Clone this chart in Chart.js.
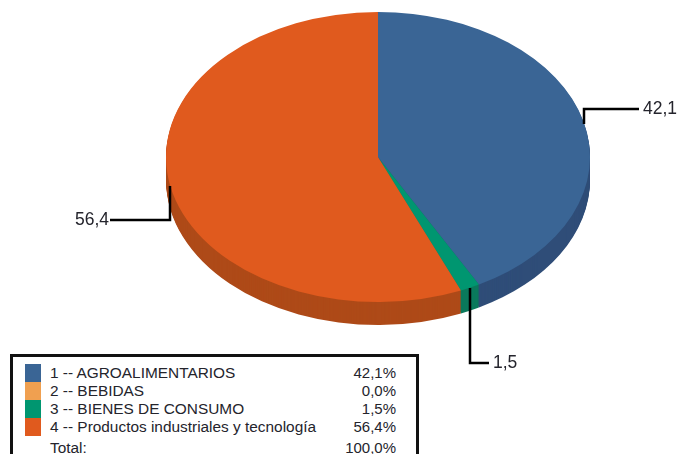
<!DOCTYPE html>
<html>
<head>
<meta charset="utf-8">
<title>Pie</title>
<script src="https://cdn.jsdelivr.net/npm/chart.js@4"></script>
<style>
html, body { margin: 0; padding: 0; background: #fff; overflow: hidden; }
#wrap { position: relative; width: 680px; height: 454px; overflow: hidden; }
#pieChart { position: absolute; left: 0; top: 0; }
#legendBox {
    position: absolute; left: 10px; top: 354px; width: 403px; height: 120px;
    border: 3px solid #111; background: #fff;
    font-family: "Liberation Sans", Arial, sans-serif; font-size: 15.4px; color: #24242c;
}
.row { position: absolute; left: 0; width: 100%; height: 18px; line-height: 18px; white-space: nowrap; }
.row .swatch { position: absolute; left: 12px; top: 0; width: 16px; height: 100%; }
.row .name { position: absolute; left: 37px; }
.row .pct { position: absolute; right: 20px; font-size: 15px; }
</style>
</head>
<body>
<div id="wrap">
    <canvas id="pieChart" width="680" height="454"></canvas>
    <div id="legendBox"></div>
</div>
<script>
// Chart data
const categories = ['1 -- AGROALIMENTARIOS', '2 -- BEBIDAS', '3 -- BIENES DE CONSUMO', '4 -- Productos industriales y tecnología'];
const shares = [42.1, 0.0, 1.5, 56.4];
const totalLabel = 'Total:';
const totalShare = 100.0;

const topColors = ['#3a6595', '#f0a050', '#009670', '#e05a1e'];
const sideColors = ['#2f4d78', '#b87a3c', '#0b7a5c', '#ae4a18'];

// Where the flattened pie ends up on the page
const pieCenterX = 378;
const pieCenterY = 157;
const pieRadiusX = 212;
const pieRadiusY = 145;
const pieDepth = 23;

// Leader lines, by data index: start offset from the rim, elbow offset, then run to the label
const leaders = {
    0: { start: 3, drop: -12, run: 55, align: 'left' },
    2: { start: 0, drop: 75, run: 19, align: 'left' },
    3: { start: 0, drop: 34, run: -60, align: 'right' }
};

function fmt(v, digits) {
    return v.toFixed(digits).replace('.', ',');
}

function squash(ctx, arc) {
    ctx.translate(pieCenterX, pieCenterY);
    ctx.scale(1, pieRadiusY / arc.outerRadius);
    ctx.translate(-arc.x, -arc.y);
}

const tiltedPie = {
    id: 'tiltedPie',
    beforeDatasetDraw(chart) {
        const ctx = chart.ctx;
        const arcs = chart.getDatasetMeta(0).data;
        // side wall, stacked slices going up
        for (let k = pieDepth; k >= 1; k--) {
            arcs.forEach((arc, i) => {
                if (arc.endAngle - arc.startAngle <= 0) return;
                ctx.save();
                ctx.translate(0, k);
                squash(ctx, arc);
                ctx.fillStyle = sideColors[i];
                ctx.beginPath();
                ctx.moveTo(arc.x, arc.y);
                ctx.arc(arc.x, arc.y, arc.outerRadius, arc.startAngle, arc.endAngle);
                ctx.closePath();
                ctx.fill();
                ctx.restore();
            });
        }
        ctx.save();
        squash(ctx, arcs[0]);
    },
    afterDatasetDraw(chart) {
        chart.ctx.restore();
    },
    afterDraw(chart) {
        const ctx = chart.ctx;
        const arcs = chart.getDatasetMeta(0).data;
        ctx.save();
        ctx.strokeStyle = '#000';
        ctx.lineWidth = 2.5;
        ctx.fillStyle = '#24242c';
        ctx.font = '17.5px "Liberation Sans", Arial, sans-serif';
        ctx.textBaseline = 'middle';
        Object.keys(leaders).forEach(key => {
            const i = Number(key);
            const arc = arcs[i];
            const mid = (arc.startAngle + arc.endAngle) / 2;
            const x = Math.round(pieCenterX + pieRadiusX * Math.cos(mid));
            const y = Math.round(pieCenterY + pieRadiusY * Math.sin(mid));
            const l = leaders[i];
            ctx.beginPath();
            ctx.moveTo(x, y + l.start);
            ctx.lineTo(x, y + l.drop);
            ctx.lineTo(x + l.run, y + l.drop);
            ctx.stroke();
            ctx.textAlign = l.align;
            const gap = l.align === 'left' ? 4 : -1;
            ctx.fillText(fmt(shares[i], 1), x + l.run + gap, y + l.drop);
        });
        ctx.restore();
    }
};

new Chart(document.getElementById('pieChart').getContext('2d'), {
    type: 'pie',
    data: {
        labels: categories,
        datasets: [{
            data: shares,
            backgroundColor: topColors,
            borderWidth: 0,
            radius: pieRadiusX
        }]
    },
    options: {
        responsive: false,
        animation: false,
        devicePixelRatio: 1,
        plugins: {
            legend: { display: false },
            tooltip: { enabled: false }
        }
    },
    plugins: [tiltedPie]
});

// Legend table under the pie
const box = document.getElementById('legendBox');
const rowTops = [7, 25, 43, 61, 82];

function addRow(top, name, pct, color) {
    const row = document.createElement('div');
    row.className = 'row';
    row.style.top = top + 'px';
    if (color) {
        const sw = document.createElement('span');
        sw.className = 'swatch';
        sw.style.background = color;
        row.appendChild(sw);
    }
    const n = document.createElement('span');
    n.className = 'name';
    n.textContent = name;
    row.appendChild(n);
    const p = document.createElement('span');
    p.className = 'pct';
    p.textContent = pct;
    row.appendChild(p);
    box.appendChild(row);
}

categories.forEach((c, i) => addRow(rowTops[i], c, fmt(shares[i], 1) + '%', topColors[i]));
addRow(rowTops[4], totalLabel, fmt(totalShare, 1) + '%', null);
</script>
</body>
</html>
